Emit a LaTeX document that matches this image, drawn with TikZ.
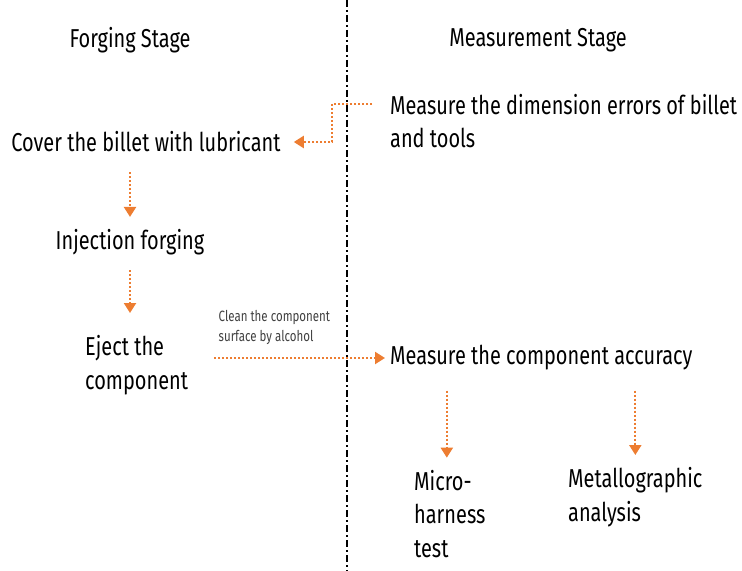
\documentclass[tikz,border=0pt]{standalone}
\usepackage{fontspec}
\setmainfont[FakeStretch=0.77]{Fira Sans}
\usetikzlibrary{arrows.meta,positioning}

\definecolor{flowor}{HTML}{ED7D31}

\begin{document}
\begin{tikzpicture}[
  x=1bp, y=-1bp,
  title/.style={font=\fontsize{26}{34}\selectfont, inner sep=0pt},
  step text/.style={font=\fontsize{26}{34}\selectfont, align=left, inner sep=0pt},
  small/.style={font=\fontsize{15}{20}\selectfont, align=left, inner sep=0pt, text=black!75},
  flow/.style={draw=flowor, line width=2.2bp, dash pattern=on 2bp off 2bp,
               -{Triangle[width=12bp,length=10bp,fill=flowor]}},
  divider/.style={line width=1.6bp, dash pattern=on 7bp off 3bp on 2bp off 3bp},
]
  \useasboundingbox (0,0) rectangle (742,571);

  % ===== Stage divider =====
  \draw[divider] (347,0) -- (347,571);

  % ===== Titles =====
  \node[title] (forgetitle) at (130,40) {Forging Stage};
  \node[title] (meastitle) at (538,40) {Measurement Stage};

  % ===== Forging column =====
  \node[step text] (cover) at (146,142) {Cover the billet with lubricant};
  \node[step text] (inject) at (130,242) {Injection forging};
  \node[step text, anchor=west] (eject) at (85,365) {Eject the\\component};

  % ===== Measurement column =====
  \node[step text, anchor=west] (measdim) at (390,121)
       {Measure the dimension errors of billet\\and tools};
  \node[step text, anchor=west] (measacc) at (390,358) {Measure the component accuracy};
  \node[step text, anchor=west] (micro) at (414,514) {Micro-\\harness\\test};
  \node[step text, anchor=west] (metal) at (568,497) {Metallographic\\analysis};

  % ===== Connectors =====
  \coordinate (dimstart) at ([xshift=-18bp, yshift=17bp]measdim.west);
  \draw[flow] (dimstart) -- ++(-40,0) |- ([xshift=13bp]cover.east);
  \draw[flow] ([yshift=-20bp]inject.north |- cover.south) -- ([yshift=12bp]inject.north);
  \draw[flow] ([yshift=-15bp]inject.south) -- ([yshift=22bp]inject.south |- eject.north);
  \draw[flow] ([xshift=26bp]eject.east |- measacc.west) -- ([xshift=-5bp]measacc.west)
        node[pos=0.02, above right, small, yshift=12bp] (clean)
             {Clean the component\\surface by alcohol};
  \draw[flow] ([xshift=-3bp, yshift=-20bp]micro.north |- measacc.south)
        -- ([xshift=-3bp, yshift=12bp]micro.north);
  \draw[flow] ([yshift=-20bp]metal.north |- measacc.south) -- ([yshift=12bp]metal.north);

\end{tikzpicture}
\end{document}
